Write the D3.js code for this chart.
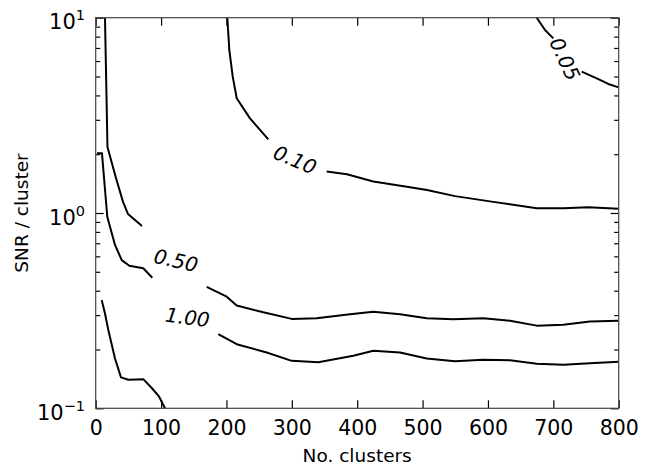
<!DOCTYPE html>
<html><head><meta charset="utf-8">
<script src="https://cdn.jsdelivr.net/npm/d3@7"></script>
<style>body{margin:0;background:#fff}svg{display:block}</style>
</head><body><svg id="c" width="665" height="465"></svg>
<script>
// ---- data ----
const xTicks = [0, 100, 200, 300, 400, 500, 600, 700, 800];
const yMajorTicks = [0.1, 1, 10];
const yTickBase = ["10", "10", "10"];
const yTickExp = ["\u22121", "0", "1"];
const xLabel = "No. clusters";
const yLabel = "SNR / cluster";

// contour segments [No. clusters, SNR/cluster]
const c005a = [[674.6,10],[687.3,8.65],[700.0,7.84]];
const c005b = [[743.4,5.29],[766.4,4.89],[784.1,4.58],[800,4.40]];
const c010a = [[201.3,10],[204.4,6.83],[209.6,4.99],[215.7,3.87],[236.0,3.05],[264.0,2.38]];
const c010b = [[353.3,1.63],[384.4,1.58],[424.6,1.45],[480.8,1.354],[506.8,1.31],[549.6,1.22],[608.2,1.14],[674.6,1.057],[715.3,1.057],[753.5,1.07],[800,1.052]];
const c050a = [[2.0,2.02],[9.6,2.02],[17.7,0.957],[29.5,0.686],[39.8,0.574],[51.4,0.537],[72.8,0.521],[86.6,0.466]];
const c050b = [[169.8,0.419],[200.4,0.373],[215.7,0.336],[256.4,0.310],[299.8,0.287],[338.0,0.289],[389.0,0.303],[424.6,0.312],[465.5,0.303],[506.3,0.289],[547.0,0.286],[592.9,0.289],[633.7,0.281],[674.6,0.265],[715.3,0.268],[756.1,0.278],[800,0.281]];
const c100b = [[187.5,0.240],[215.7,0.213],[261.6,0.193],[299.8,0.175],[340.5,0.172],[394.0,0.186],[424.6,0.197],[465.5,0.193],[506.3,0.180],[549.6,0.174],[592.9,0.177],[633.7,0.176],[674.6,0.169],[715.3,0.167],[756.1,0.170],[800,0.173]];
const cUpperLeft = [[14.2,10],[18.0,2.18],[31.0,1.51],[41.8,1.14],[49.4,0.988],[70.8,0.858]];
const cLowerLeft = [[9.2,0.358],[14.2,0.306],[19.3,0.252],[29.5,0.180],[38.7,0.144],[49.9,0.140],[72.8,0.141],[85.7,0.127],[96.8,0.115],[106.0,0.1],[110,0.093]];

const labelText = ["0.05", "0.10", "0.50", "1.00"];
const labelX = [717.5, 304.8, 122.8, 140.4];
const labelY = [6.14, 1.87, 0.571, 0.292];
const labelAngle = [65, 23, 12.5, 7.2];

// ---- drawing ----
const svg = d3.select("#c");
const L = 95.7, R = 618.7, T = 17.7, B = 408.3;
const x = d3.scaleLinear().domain([0, 800]).range([L, R]);
const y = d3.scaleLog().domain([0.1, 10]).range([B, T]);
const font = "'DejaVu Sans', sans-serif";

svg.append("rect").attr("width", 665).attr("height", 465).attr("fill", "#fff");

svg.append("clipPath").attr("id", "clip")
  .append("rect").attr("x", L).attr("y", T).attr("width", R - L).attr("height", B - T);

const line = d3.line().x(d => x(d[0])).y(d => y(d[1]));
const segs = [c005a, c005b, c010a, c010b, c050a, c050b, c100b, cUpperLeft, cLowerLeft];
svg.append("g").attr("clip-path", "url(#clip)")
  .selectAll("path").data(segs).join("path")
  .attr("d", line).attr("fill", "none").attr("stroke", "#000")
  .attr("stroke-width", 2).attr("stroke-linejoin", "round");

// labels
svg.append("g").selectAll("text").data(labelText).join("text")
  .attr("transform", (d, i) => `translate(${x(labelX[i])},${y(labelY[i])}) rotate(${labelAngle[i]})`)
  .attr("text-anchor", "middle").attr("dominant-baseline", "central")
  .attr("font-family", font).attr("font-style", "italic").attr("font-size", 20)
  .attr("fill", "#000").text(d => d);

// axes (ticks inward on all sides)
const tickMajor = 8, tickMinor = 4.5;
const xb = d3.axisBottom(x).tickValues(xTicks).tickSize(-tickMajor).tickFormat(d3.format("d")).tickPadding(12);
const xt = d3.axisTop(x).tickValues(xTicks).tickSize(-tickMajor).tickFormat("");
const gxb = svg.append("g").attr("transform", `translate(0,${B})`).call(xb);
const gxt = svg.append("g").attr("transform", `translate(0,${T})`).call(xt);

const yMinor = [];
[0.1, 1].forEach(b => { for (let k = 2; k <= 9; k++) yMinor.push(b * k); });
const yl = d3.axisLeft(y).tickValues(yMajorTicks).tickSize(-tickMajor).tickFormat("");
const yr = d3.axisRight(y).tickValues(yMajorTicks).tickSize(-tickMajor).tickFormat("");
const ylm = d3.axisLeft(y).tickValues(yMinor).tickSize(-tickMinor).tickFormat("");
const yrm = d3.axisRight(y).tickValues(yMinor).tickSize(-tickMinor).tickFormat("");
const gyl = svg.append("g").attr("transform", `translate(${L},0)`).call(yl);
const gyr = svg.append("g").attr("transform", `translate(${R},0)`).call(yr);
svg.append("g").attr("transform", `translate(${L},0)`).call(ylm).attr("class", "minor");
svg.append("g").attr("transform", `translate(${R},0)`).call(yrm).attr("class", "minor");

svg.selectAll(".domain").remove();
svg.selectAll(".tick line").attr("stroke", "#000").attr("stroke-width", 1.2);

gxb.selectAll("text").attr("font-family", font).attr("font-size", 20.5).attr("fill", "#000");

// y tick labels with superscripts
const ytl = svg.append("g").selectAll("text").data(yMajorTicks).join("text")
  .attr("x", 85).attr("y", d => y(d) + 11.7)
  .attr("text-anchor", "end").attr("font-family", font).attr("font-size", 21).attr("fill", "#000");
ytl.append("tspan").text((d, i) => yTickBase[i]);
ytl.append("tspan").attr("font-size", 14.5).attr("dy", -9).text((d, i) => yTickExp[i]);

// frame
svg.append("rect").attr("x", L).attr("y", T).attr("width", R - L).attr("height", B - T)
  .attr("fill", "none").attr("stroke", "#444").attr("stroke-width", 1.2);

// axis titles
svg.append("text").attr("x", (L + R) / 2).attr("y", 461.5).attr("text-anchor", "middle")
  .attr("font-family", font).attr("font-size", 18.5).attr("fill", "#000").text(xLabel);
svg.append("text").attr("transform", `translate(28.3,${(T + B) / 2}) rotate(-90)`)
  .attr("text-anchor", "middle").attr("font-family", font).attr("font-size", 18.5)
  .attr("fill", "#000").text(yLabel);
</script></body></html>
